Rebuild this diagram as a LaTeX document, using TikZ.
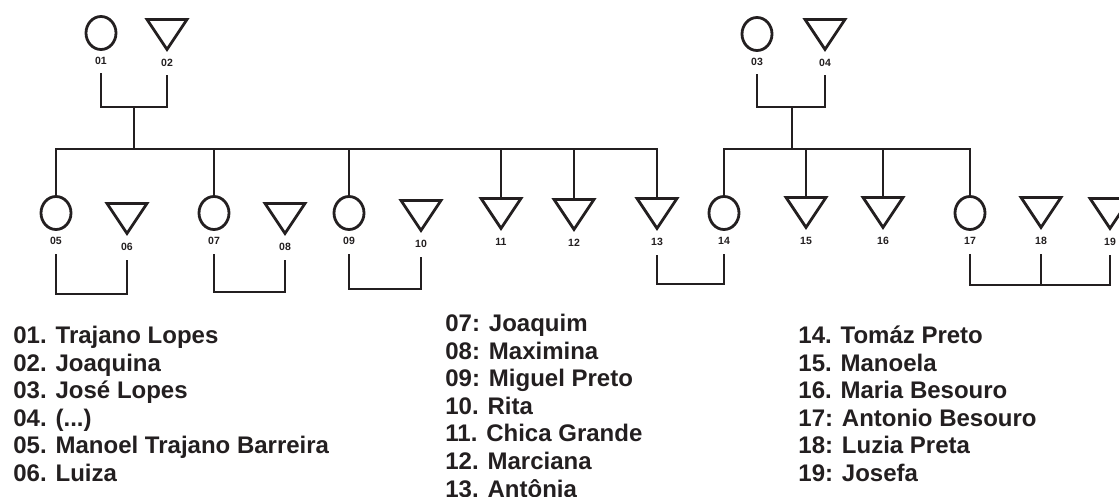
\documentclass[tikz,border=0pt]{standalone}
\usepackage{fontspec}
\setmainfont{Liberation Sans}
\usepackage{tikz}
\usetikzlibrary{shapes.geometric, positioning}
\definecolor{ink}{HTML}{231F20}

\begin{document}
\begin{tikzpicture}[x=1pt, y=-1pt, color=ink, line width=2.8pt,
  fem/.style={draw, ellipse, minimum width=30pt, minimum height=33pt, inner sep=0pt},
  masc/.style={draw, isosceles triangle, isosceles triangle stretches,
    shape border rotate=270, minimum width=40pt, minimum height=30pt, inner sep=0pt},
  num/.style={font=\bfseries\fontsize{10.5}{12}\selectfont, inner sep=0pt},
  key/.style={font=\bfseries\fontsize{24}{27.6}\selectfont, anchor=base west, inner sep=0pt},
  pair/.style={shorten <=8pt, shorten >=8pt}]
  \useasboundingbox (0,0) rectangle (1119,496);

  % parents
  \node[fem] (p01) at (101,33) {};
  \node[masc, anchor=north] (p02) at (167,18) {};
  \node[fem] (p03) at (757,34) {};
  \node[masc, anchor=north] (p04) at (825,18) {};

  % children row
  \foreach \n/\x in {05/56, 07/214, 09/349, 14/724, 17/970}
    \node[fem] (p\n) at (\x,213) {};
  \foreach \n/\x/\y in {06/127/202, 08/285/202, 10/421/199, 11/501/197, 12/574/198,
                        13/657/197, 15/806/196, 16/883/196, 18/1041/196, 19/1110/197}
    \node[masc, anchor=north] (p\n) at (\x,\y) {};

  % numbers under the symbols
  \foreach \n in {01,02,03,04,05,06,07,08,09,10,11,12,13,14,15,16,17,18,19}
    \node[num, below=5pt of p\n] (l\n) {\n};

  % first couple and their children
  \coordinate (m0102) at (134,107);
  \coordinate (s0102) at (134,149);
  \draw[shorten <=7pt, shorten >=7pt] (l01.south) |- (m0102) -| (l02.south);
  \draw (m0102) -- (s0102);
  \draw (p05.north) |- (s0102) -| (p13.north);
  \foreach \n in {07,09,11,12}
    \draw (p\n.north) -- (p\n.north |- s0102);

  % second couple and their children
  \coordinate (m0304) at (792,107);
  \coordinate (s0304) at (792,149);
  \draw[shorten <=7pt, shorten >=7pt] (l03.south) |- (m0304) -| (l04.south);
  \draw (m0304) -- (s0304);
  \draw (p14.north) |- (s0304) -| (p17.north);
  \foreach \n in {15,16}
    \draw (p\n.north) -- (p\n.north |- s0304);

  % marriages
  \coordinate (b0506) at (90,294);
  \coordinate (b0708) at (250,292);
  \coordinate (b0910) at (385,289);
  \coordinate (b1314) at (690,284);
  \coordinate (b1719) at (1040,285);
  \draw[pair] (l05.south) |- (b0506) -| (l06.south);
  \draw[pair] (l07.south) |- (b0708) -| (l08.south);
  \draw[pair] (l09.south) |- (b0910) -| (l10.south);
  \draw[pair] (l13.south) |- (b1314) -| (l14.south);
  \draw[pair] (l17.south) |- (b1719) -| (l19.south);
  \draw[shorten <=8pt] (l18.south) -- (l18.south |- b1719);

  % names
  \foreach \n/\i/\txt in {01/0/{01. Trajano Lopes}, 02/1/{02. Joaquina},
      03/2/{03. José Lopes}, 04/3/{04. (...)},
      05/4/{05. Manoel Trajano Barreira}, 06/5/{06. Luiza}}
    \node[key] (k\n) at (12,{343.5+27.6*\i}) {\txt};
  \foreach \n/\i/\txt in {07/0/{07: Joaquim}, 08/1/{08: Maximina},
      09/2/{09: Miguel Preto}, 10/3/{10. Rita}, 11/4/{11. Chica Grande},
      12/5/{12. Marciana}, 13/6/{13. Antônia}}
    \node[key] (k\n) at (444,{331.5+27.6*\i}) {\txt};
  \foreach \n/\i/\txt in {14/0/{14. Tomáz Preto}, 15/1/{15. Manoela},
      16/2/{16. Maria Besouro}, 17/3/{17: Antonio Besouro},
      18/4/{18: Luzia Preta}, 19/5/{19: Josefa}}
    \node[key] (k\n) at (797,{343.5+27.6*\i}) {\txt};
\end{tikzpicture}
\end{document}
